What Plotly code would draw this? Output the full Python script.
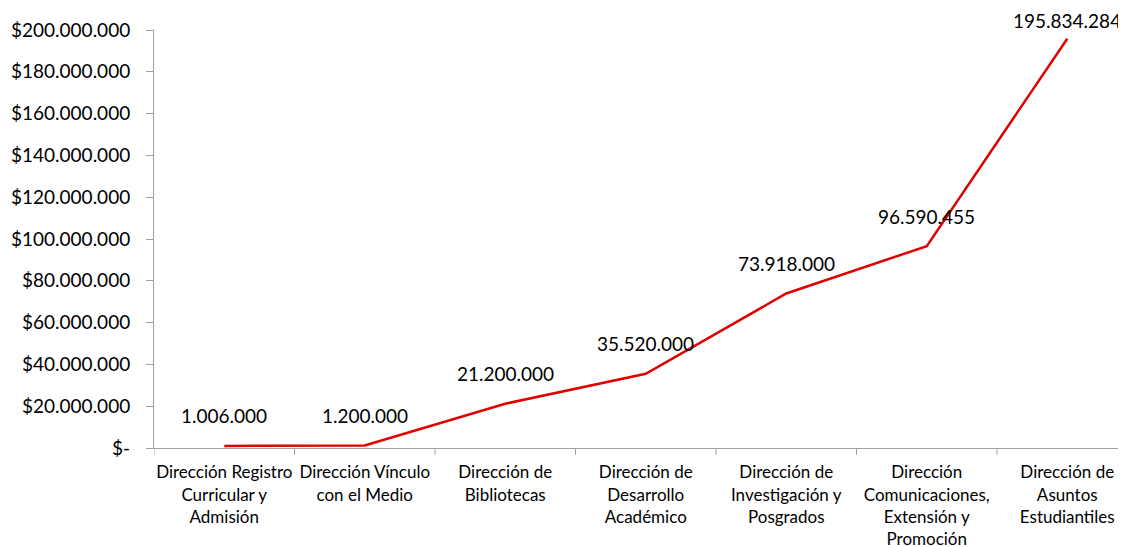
import plotly.graph_objects as go

categorias = [
    "Dirección Registro<br>Curricular y<br>Admisión",
    "Dirección Vínculo<br>con el Medio",
    "Dirección de<br>Bibliotecas",
    "Dirección de<br>Desarrollo<br>Académico",
    "Dirección de<br>Investigación y<br>Posgrados",
    "Dirección<br>Comunicaciones,<br>Extensión y<br>Promoción",
    "Dirección de<br>Asuntos<br>Estudiantiles",
]
montos = [1006000, 1200000, 21200000, 35520000, 73918000, 96590455, 195834284]
y_ticks = list(range(0, 200000001, 20000000))
y_max = 200000000


def fmt(v):
    # separador de miles con punto
    return f"{v:,}".replace(",", ".")


y_labels = ["$-" if v == 0 else "$" + fmt(v) for v in y_ticks]

alto_plot = 418
margen_sup = 22

fig = go.Figure()
fig.add_trace(go.Scatter(
    x=list(range(len(categorias))), y=montos, mode="lines",
    line=dict(color="#e00000", width=2.5), hoverinfo="skip",
))

for i, v in enumerate(montos):
    # la etiqueta no sale del borde superior
    px_y = margen_sup + alto_plot * (1 - v / y_max)
    shift = min(30, px_y - 12)
    fig.add_annotation(x=i, y=v, text=fmt(v), showarrow=False, yshift=shift,
                       font=dict(size=19, color="black"))

fig.update_layout(
    width=1126, height=547,
    margin=dict(l=146, r=0, t=margen_sup, b=547 - margen_sup - alto_plot),
    plot_bgcolor="white", paper_bgcolor="white",
    font=dict(family="Lato", size=17, color="black"),
    showlegend=False,
)
fig.update_xaxes(
    tickmode="array", tickvals=list(range(len(categorias))), ticktext=categorias,
    range=[-0.5, 6.475], showline=True, linecolor="#a0a0a0", linewidth=1,
    showgrid=False, zeroline=False, ticks="outside", ticklen=9,
    tickcolor="rgba(0,0,0,0)", tickfont=dict(size=17),
)
# marcas de separación entre categorías
for k in range(len(categorias)):
    fig.add_shape(type="line", xref="x", yref="paper", x0=k - 0.5, x1=k - 0.5,
                  y0=0, y1=-0.016, line=dict(color="#a0a0a0", width=1))
fig.update_yaxes(
    tickmode="array", tickvals=y_ticks, ticktext=y_labels, range=[0, y_max],
    showline=True, linecolor="#a0a0a0", linewidth=1, showgrid=False,
    zeroline=False, ticks="outside", ticklen=7, tickcolor="#a0a0a0",
    tickfont=dict(size=19), ticklabelstandoff=12,
)

fig.write_html("out.html")
